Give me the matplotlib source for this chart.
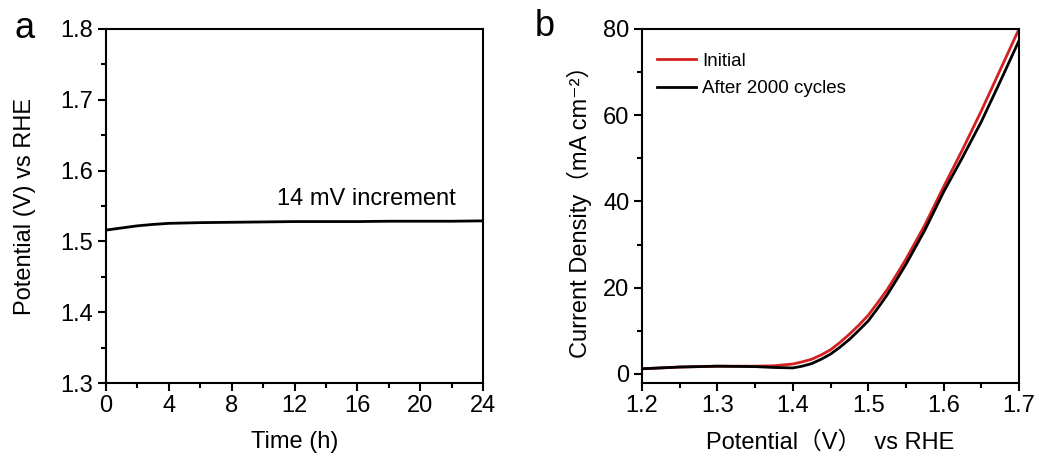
import matplotlib
matplotlib.use("Agg")
import matplotlib.pyplot as plt
from matplotlib.ticker import MultipleLocator

plt.rcParams['font.family'] = ['Liberation Sans', 'Noto Sans CJK SC', 'DejaVu Sans']

# Panel a: chronopotentiometry
time_h = [0, 0.5, 1, 1.5, 2, 3, 4, 5, 6, 8, 10, 12, 14, 16, 18, 20, 22, 24]
potential_v = [1.516, 1.5175, 1.519, 1.5205, 1.522, 1.524, 1.5255, 1.526, 1.5265, 1.527,
               1.5275, 1.528, 1.528, 1.528, 1.5285, 1.5285, 1.5285, 1.529]

# Panel b: polarization curves
pot_b = [1.20, 1.25, 1.30, 1.35, 1.375, 1.40, 1.4125, 1.425, 1.4375, 1.45, 1.4625,
         1.475, 1.4875, 1.50, 1.5125, 1.525, 1.5375, 1.55, 1.575, 1.60, 1.625,
         1.65, 1.675, 1.70]
initial = [1.2, 1.6, 1.8, 1.8, 1.9, 2.3, 2.8, 3.4, 4.4, 5.6, 7.3,
           9.2, 11.3, 13.6, 16.5, 19.5, 23.0, 26.6, 34.5, 43.4, 52.0,
           61.0, 70.5, 80.0]
after = [1.2, 1.6, 1.8, 1.7, 1.5, 1.4, 1.8, 2.4, 3.4, 4.6, 6.2,
         8.0, 10.1, 12.3, 15.2, 18.3, 21.8, 25.4, 33.3, 42.2, 50.2,
         58.5, 67.8, 77.3]

fig = plt.figure(figsize=(10.39, 4.57), dpi=100)
W, H = 1039, 457
axa = fig.add_axes([106 / W, 1 - 383 / H, (483 - 106) / W, (383 - 29) / H])
axb = fig.add_axes([642 / W, 1 - 383 / H, (1019 - 642) / W, (383 - 29) / H])

for ax in (axa, axb):
    for s in ax.spines.values():
        s.set_linewidth(1.5)
    ax.tick_params(which='both', direction='out', top=False, right=False,
                   width=1.5, labelsize=17, pad=3)
    ax.tick_params(which='major', length=6)
    ax.tick_params(which='minor', length=3.5)

axa.plot(time_h, potential_v, color='black', lw=2)
axa.set_xlim(0, 24)
axa.set_ylim(1.3, 1.8)
axa.xaxis.set_major_locator(MultipleLocator(4))
axa.xaxis.set_minor_locator(MultipleLocator(2))
axa.yaxis.set_major_locator(MultipleLocator(0.1))
axa.yaxis.set_minor_locator(MultipleLocator(0.05))
axa.set_xticklabels([f"{int(v)}" for v in axa.get_xticks()])
axa.set_yticklabels([f"{v:.1f}" for v in axa.get_yticks()])
axa.set_xlabel("Time (h)", fontsize=17, labelpad=10)
axa.set_ylabel("Potential (V) vs RHE", fontsize=17, labelpad=18)
axa.text(16.6, 1.545, "14 mV increment", fontsize=17, ha='center', va='bottom')

axb.plot(pot_b, initial, color='#d42020', lw=2, label='Initial')
axb.plot(pot_b, after, color='black', lw=2, label='After 2000 cycles')
axb.set_xlim(1.2, 1.7)
axb.set_ylim(-2.1, 80)
axb.xaxis.set_minor_locator(MultipleLocator(0.05))
axb.yaxis.set_minor_locator(MultipleLocator(10))
axb.set_xticks([1.2, 1.3, 1.4, 1.5, 1.6, 1.7])
axb.set_xticklabels(["1.2", "1.3", "1.4", "1.5", "1.6", "1.7"])
axb.set_yticks([0, 20, 40, 60, 80])
axb.set_yticklabels(["0", "20", "40", "60", "80"])
axb.set_xlabel("Potential（V）  vs RHE", fontsize=17, labelpad=10)
axb.set_ylabel("Current Density（mA cm⁻²）", fontsize=17, labelpad=8)
axb.legend(loc='upper left', frameon=False, fontsize=13.5, handlelength=2.1,
           handletextpad=0.3, borderaxespad=0.4, labelspacing=0.55,
           bbox_to_anchor=(0.0, 0.975))

fig.text(25 / W, 1 - 28 / H, "a", fontsize=26, ha='center', va='center')
fig.text(545 / W, 1 - 26 / H, "b", fontsize=26, ha='center', va='center')

fig.savefig("out.png", dpi=100)
